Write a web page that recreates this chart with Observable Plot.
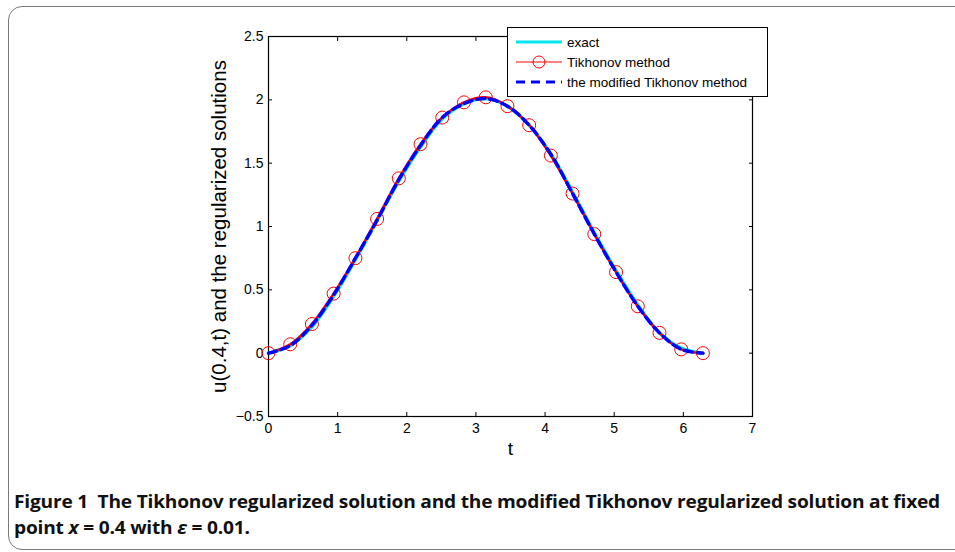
<!DOCTYPE html>
<html>
<head>
<meta charset="utf-8">
<script src="https://cdn.jsdelivr.net/npm/d3@7"></script>
<script src="https://cdn.jsdelivr.net/npm/@observablehq/plot@0.6"></script>
<style>
  html, body { margin: 0; padding: 0; background: #fff; }
  #wrap { position: relative; width: 955px; height: 552px; overflow: hidden; font-family: "Liberation Sans", Arial, sans-serif; }
  #box { position: absolute; left: 8px; top: 6px; width: 1000px; height: 544px; border: 1.5px solid #7a7a7a; border-radius: 14px; box-sizing: border-box; }
  #chart { position: absolute; left: 0; top: 0; }
  #chart svg { overflow: visible; }
  #chart g[aria-label="x-axis label"] text { font-size: 19px !important; }
  #chart g[aria-label="y-axis label"] text { font-size: 20.5px !important; }
  #legend { position: absolute; left: 507px; top: 27px; width: 261px; height: 70px; border: 1px solid #000; background: #fff; box-sizing: border-box; font-size: 13.5px; }
  .lrow { position: absolute; left: 0; height: 20px; display: flex; align-items: center; }
  .lrow svg { margin-left: 8px; }
  .lrow span { margin-left: 5px; color: #000; }
  .cap { position: absolute; left: 14px; font-family: "Open Sans", "Noto Sans", sans-serif; font-weight: 700; font-size: 18px; color: #111; white-space: nowrap; transform-origin: 0 0; letter-spacing: -0.2px; }
</style>
</head>
<body>
<div id="wrap">
  <div id="box"></div>
  <div id="chart"></div>
  <div id="legend"></div>
  <div class="cap" id="cap1" style="top:489px">Figure 1&nbsp;&nbsp;The Tikhonov regularized solution and the modified Tikhonov regularized solution at fixed</div>
  <div class="cap" id="cap2" style="top:515px">point <i>x</i> = 0.4 with <i>ε</i> = 0.01.</div>
</div>
<script>
// sample points t (step ~ pi/10)
const tValues = [0, 0.314, 0.628, 0.942, 1.257, 1.571, 1.885, 2.199, 2.513, 2.827, 3.142, 3.456, 3.770, 4.084, 4.398, 4.712, 5.027, 5.341, 5.655, 5.969, 6.283];
const exactValues = [0, 0.06, 0.21, 0.45, 0.74, 1.05, 1.36, 1.63, 1.85, 1.97, 2.01, 1.95, 1.80, 1.57, 1.27, 0.95, 0.65, 0.38, 0.16, 0.04, 0];
const tikhonovValues = [0, 0.07, 0.23, 0.47, 0.75, 1.06, 1.38, 1.65, 1.86, 1.98, 2.02, 1.95, 1.80, 1.56, 1.26, 0.94, 0.64, 0.37, 0.16, 0.03, 0];
const modifiedValues = [0, 0.06, 0.22, 0.46, 0.75, 1.05, 1.37, 1.64, 1.86, 1.97, 2.01, 1.95, 1.80, 1.57, 1.26, 0.94, 0.64, 0.37, 0.16, 0.03, 0];
const xTicks = [0, 1, 2, 3, 4, 5, 6, 7];
const yTicks = [-0.5, 0, 0.5, 1, 1.5, 2, 2.5];
const seriesNames = ["exact", "Tikhonov method", "the modified Tikhonov method"];
const xLabel = "t";
const yLabel = "u(0.4,t) and the regularized solutions";

const exact = tValues.map((t, i) => ({t, u: exactValues[i]}));
const tik = tValues.map((t, i) => ({t, u: tikhonovValues[i]}));
const mod = tValues.map((t, i) => ({t, u: modifiedValues[i]}));

const H = 470;
const plot = Plot.plot({
  width: 955,
  height: H,
  marginLeft: 268,
  marginRight: 203,
  marginTop: 36,
  marginBottom: H - 416,
  style: {fontFamily: "Liberation Sans, Arial, sans-serif", fontSize: "14px", color: "#000", background: "transparent"},
  x: {domain: [0, 7]},
  y: {domain: [-0.5, 2.5]},
  marks: [
    Plot.frame({stroke: "#000", strokeWidth: 1.2}),
    Plot.axisX({ticks: xTicks, tickSize: -4, tickPadding: 11, tickFormat: d => String(d), label: xLabel, labelAnchor: "center", labelArrow: "none", labelOffset: 38}),
    Plot.axisX({anchor: "top", ticks: xTicks, tickSize: -4, tickFormat: () => "", label: null}),
    Plot.axisY({ticks: yTicks, tickSize: -4, tickPadding: 9, tickFormat: d => d < 0 ? "\u2212" + Math.abs(d) : String(d), label: yLabel, labelAnchor: "center", labelArrow: "none", labelOffset: 57}),
    Plot.axisY({anchor: "right", ticks: yTicks, tickSize: -4, tickFormat: () => "", label: null}),
    Plot.line(exact, {x: "t", y: "u", stroke: "#00e5ee", strokeWidth: 3.5, curve: "catmull-rom"}),
    Plot.line(tik, {x: "t", y: "u", stroke: "#ff0000", strokeWidth: 2.6, curve: "catmull-rom"}),
    Plot.dot(tik, {x: "t", y: "u", r: 6.5, stroke: "#ff0000", strokeWidth: 1, fill: "none"}),
    Plot.line(mod, {x: "t", y: "u", stroke: "#0000ff", strokeWidth: 3.4, strokeDasharray: "8,5", curve: "catmull-rom"})
  ]
});
document.getElementById("chart").appendChild(plot);

// legend
const samples = [
  `<svg width="46" height="14"><line x1="0" y1="7" x2="46" y2="7" stroke="#00e5ee" stroke-width="3"/></svg>`,
  `<svg width="46" height="14"><line x1="0" y1="7" x2="46" y2="7" stroke="#ff0000" stroke-width="1"/><circle cx="23" cy="7" r="6" fill="none" stroke="#ff0000" stroke-width="1"/></svg>`,
  `<svg width="46" height="14"><line x1="0" y1="7" x2="46" y2="7" stroke="#0000ff" stroke-width="3" stroke-dasharray="9,6"/></svg>`
];
const legend = document.getElementById("legend");
seriesNames.forEach((name, i) => {
  const row = document.createElement("div");
  row.className = "lrow";
  row.style.top = (4 + i * 20) + "px";
  row.innerHTML = samples[i] + `<span>${name}</span>`;
  legend.appendChild(row);
});

// fit caption line 1 width to reference
const c1 = document.getElementById("cap1");
const w = c1.getBoundingClientRect().width;
const s = 926 / w;
c1.style.transform = `scaleX(${s})`;
document.getElementById("cap2").style.transform = `scaleX(${s})`;
</script>
</body>
</html>
